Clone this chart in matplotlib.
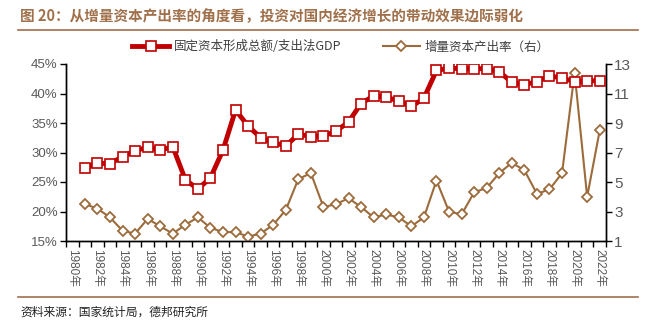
import matplotlib
matplotlib.use("Agg")
from matplotlib import pyplot as plt
from matplotlib.lines import Line2D
import numpy as np

plt.rcParams['font.family'] = ['Liberation Sans', 'Noto Sans CJK SC', 'DejaVu Sans']

# 数据
years = list(range(1980, 2023))
gfcf_years = list(range(1981, 2023))
gfcf_ratio = [27.3, 28.2, 28.1, 29.3, 30.3, 30.9, 30.4, 31.0, 25.4, 23.8,
              25.7, 30.4, 37.2, 34.5, 32.5, 31.7, 31.1, 33.1, 32.7, 32.8,
              33.6, 35.2, 38.3, 39.6, 39.4, 38.7, 37.8, 39.2, 43.9, 44.3,
              44.2, 44.2, 44.2, 43.7, 41.9, 41.5, 42.0, 43.0, 42.6, 42.0,
              42.1, 42.2]
icor = [3.5, 3.2, 2.6, 1.7, 1.5, 2.5, 2.0, 1.5, 2.1, 2.6,
        1.9, 1.6, 1.6, 1.3, 1.5, 2.1, 3.1, 5.2, 5.6, 3.3,
        3.5, 3.9, 3.3, 2.6, 2.8, 2.6, 2.0, 2.6, 5.1, 3.0,
        2.8, 4.3, 4.6, 5.6, 6.3, 5.8, 4.2, 4.5, 5.6, 12.4,
        4.0, 8.5]
label_red = "固定资本形成总额/支出法GDP"
label_brown = "增量资本产出率（右）"

red = "#C00000"
brown = "#9C6B3C"
gray = "#595959"

W, H = 649, 322
fig = plt.figure(figsize=(W / 100, H / 100), dpi=100)
ax = fig.add_axes([66 / W, 1 - 241 / H, (606 - 66) / W, (241 - 64) / H])
ax2 = ax.twinx()

x_red = [years.index(y) for y in gfcf_years]
ax.plot(x_red, gfcf_ratio, color=red, lw=3.5, marker="s", ms=6.5,
        mfc="white", mec=red, mew=1.2, zorder=3)
ax2.plot(x_red, icor, color=brown, lw=1.5, marker="D", ms=5,
         mfc="white", mec=brown, mew=1.3, zorder=3)

ax.set_xlim(-0.5, len(years) - 0.5)
ax.set_ylim(15, 45)
ax.set_yticks(np.arange(15, 46, 5))
ax.set_yticklabels([f"{v}%" for v in range(15, 46, 5)])
ax2.set_ylim(1, 13)
ax2.set_yticks(np.arange(1, 14, 2))

ax.set_xticks(range(0, len(years), 2))
ax.set_xticklabels([f"{y}年" for y in years[::2]], rotation=270)
ax.set_xticks(np.arange(-0.5, len(years)), minor=True)
ax.tick_params(axis="x", which="major", length=0, pad=6, labelsize=8.5, labelcolor=gray)
ax.tick_params(axis="x", which="minor", length=4, width=1, direction="out")
ax.tick_params(axis="y", length=4, width=1, labelsize=9.5, labelcolor=gray, pad=2)
ax2.tick_params(axis="y", length=4, width=1, labelsize=11, labelcolor=gray, pad=2)

for a in (ax, ax2):
    a.spines["top"].set_visible(False)
    for s in ("left", "right", "bottom"):
        a.spines[s].set_linewidth(1)
ax.set_zorder(ax2.get_zorder() + 1)
ax.patch.set_visible(False)

# 图例
handles = [Line2D([], [], color=red, lw=3.5, marker="s", ms=6.5, mfc="white", mec=red, mew=1.2),
           Line2D([], [], color=brown, lw=1.5, marker="D", ms=5, mfc="white", mec=brown, mew=1.3)]
fig.legend(handles, [label_red, label_brown], loc="center", bbox_to_anchor=(0.525, 1 - 47 / H),
           ncol=2, frameon=False, prop={"family": "Noto Sans CJK SC", "size": 9},
           handlelength=3.0, columnspacing=3.3, handletextpad=0.35, labelcolor="#404040")

# 标题与来源
fig.text(20 / W, 1 - 16 / H, "图 20：从增量资本产出率的角度看，投资对国内经济增长的带动效果边际弱化",
         fontsize=10.5, fontweight="bold", color="#A0704A", va="center",
         family=["Noto Sans CJK SC", "DejaVu Sans"])
fig.add_artist(Line2D([18 / W, 638 / W], [1 - 30 / H, 1 - 30 / H], color="#A0704A", lw=1.2))
fig.add_artist(Line2D([18 / W, 638 / W], [1 - 297 / H, 1 - 297 / H], color="#A0704A", lw=1.2))
fig.text(20 / W, 1 - 312 / H, "资料来源：国家统计局，德邦研究所", fontsize=8.5, color="#222222",
         va="center", family=["Noto Sans CJK SC", "DejaVu Sans"])

fig.savefig("out.png", dpi=100)
